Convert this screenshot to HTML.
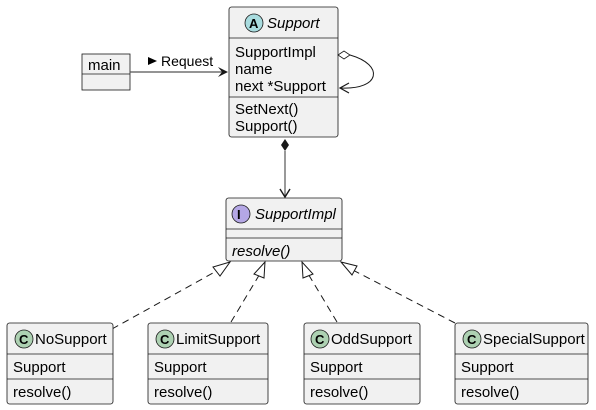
<!DOCTYPE html>
<html><head><meta charset="utf-8"><style>
html,body{margin:0;padding:0;background:#fff;}
svg{display:block;}
text{font-family:"Liberation Sans",sans-serif;font-size:15px;fill:#000;}
.b{fill:#f1f1f1;stroke:#181818;stroke-width:0.8;}
.l{stroke:#181818;stroke-width:0.8;}
</style></head><body>
<svg width="596" height="410" viewBox="0 0 596 410" xmlns="http://www.w3.org/2000/svg">
<!-- main -->
<rect class="b" x="82" y="54" width="48" height="36"/>
<line class="l" x1="82" y1="74" x2="130" y2="74"/>
<text x="88" y="70">main</text>
<!-- main -> Support -->
<line x1="130" y1="72" x2="226" y2="72" stroke="#555" stroke-width="1.2"/>
<path d="M218,67 L228,72 L218,77 L222,72 Z" fill="#181818"/>
<path d="M148,57 L157,61 L148,65 Z" fill="#000"/>
<text x="161" y="66" style="font-size:14px">Request</text>
<!-- Support -->
<rect class="b" x="229" y="7" width="109" height="130" rx="2.5"/>
<line class="l" x1="229" y1="38" x2="338" y2="38"/>
<line class="l" x1="229" y1="97" x2="338" y2="97"/>
<circle cx="254" cy="23" r="9" fill="#a9dcdf" stroke="#181818" stroke-width="0.8"/>
<text x="249" y="28" style="font-size:13px;font-weight:bold">A</text>
<text x="267" y="28" style="font-style:italic">Support</text>
<text x="235" y="57">SupportImpl</text>
<text x="235" y="74">name</text>
<text x="235" y="91">next *Support</text>
<text x="235" y="114">SetNext()</text>
<text x="235" y="131">Support()</text>
<!-- self loop -->
<path d="M338,55 L344,51 L350,55 L344,59 Z" fill="#fff" stroke="#181818" stroke-width="0.8"/>
<path d="M350,55 C385,65 380,90 341,88" fill="none" stroke="#181818" stroke-width="1"/>
<path d="M349,83 L340,88 L349,93" fill="none" stroke="#181818" stroke-width="1.2"/>
<!-- composition -->
<path d="M285,139 L289,145 L285,151 L281,145 Z" fill="#181818"/>
<line x1="285" y1="151" x2="285" y2="197" stroke="#555" stroke-width="1.2"/>
<path d="M280,189 L285,197 L290,189" fill="none" stroke="#181818" stroke-width="1.4"/>
<!-- SupportImpl -->
<rect class="b" x="226" y="198" width="116" height="63" rx="2.5"/>
<line class="l" x1="226" y1="229" x2="342" y2="229"/>
<line class="l" x1="226" y1="238" x2="342" y2="238"/>
<circle cx="241" cy="214" r="9" fill="#b4a7e5" stroke="#181818" stroke-width="0.8"/>
<text x="237" y="219" style="font-size:13px;font-weight:bold">I</text>
<text x="255" y="219" style="font-style:italic">SupportImpl</text>
<text x="232" y="256" style="font-style:italic">resolve()</text>
<!-- realization lines -->
<g fill="none" stroke="#181818" stroke-width="1">
<line x1="112" y1="329" x2="222" y2="268" stroke-dasharray="7,5"/>
<path d="M230,262 L213,267 L220,276 Z" fill="#fff"/>
<line x1="231" y1="322" x2="261" y2="272" stroke-dasharray="7,5"/>
<path d="M265,262 L254,274 L264,278 Z" fill="#fff"/>
<line x1="337" y1="322" x2="307" y2="272" stroke-dasharray="7,5"/>
<path d="M302,262 L303,278 L313,274 Z" fill="#fff"/>
<line x1="455" y1="323" x2="349" y2="268" stroke-dasharray="7,5"/>
<path d="M341,262 L352,275 L357,266 Z" fill="#fff"/>
</g>
<!-- bottom classes -->
<g>
<rect class="b" x="7" y="323" width="106" height="81" rx="2.5"/>
<line class="l" x1="7" y1="354" x2="113" y2="354"/>
<line class="l" x1="7" y1="379" x2="113" y2="379"/>
<circle cx="24" cy="339" r="9" fill="#add1b2" stroke="#181818" stroke-width="0.8"/>
<text x="19" y="344" style="font-size:13px;font-weight:bold">C</text>
<text x="35" y="344">NoSupport</text>
<text x="13" y="372">Support</text>
<text x="13" y="397">resolve()</text>

<rect class="b" x="148" y="323" width="120" height="81" rx="2.5"/>
<line class="l" x1="148" y1="354" x2="268" y2="354"/>
<line class="l" x1="148" y1="379" x2="268" y2="379"/>
<circle cx="165" cy="339" r="9" fill="#add1b2" stroke="#181818" stroke-width="0.8"/>
<text x="160" y="344" style="font-size:13px;font-weight:bold">C</text>
<text x="176" y="344">LimitSupport</text>
<text x="154" y="372">Support</text>
<text x="154" y="397">resolve()</text>

<rect class="b" x="304" y="323" width="116" height="81" rx="2.5"/>
<line class="l" x1="304" y1="354" x2="420" y2="354"/>
<line class="l" x1="304" y1="379" x2="420" y2="379"/>
<circle cx="320" cy="339" r="9" fill="#add1b2" stroke="#181818" stroke-width="0.8"/>
<text x="315" y="344" style="font-size:13px;font-weight:bold">C</text>
<text x="331" y="344">OddSupport</text>
<text x="310" y="372">Support</text>
<text x="310" y="397">resolve()</text>

<rect class="b" x="455" y="323" width="133" height="81" rx="2.5"/>
<line class="l" x1="455" y1="354" x2="588" y2="354"/>
<line class="l" x1="455" y1="379" x2="588" y2="379"/>
<circle cx="472" cy="339" r="9" fill="#add1b2" stroke="#181818" stroke-width="0.8"/>
<text x="467" y="344" style="font-size:13px;font-weight:bold">C</text>
<text x="483" y="344">SpecialSupport</text>
<text x="461" y="372">Support</text>
<text x="461" y="397">resolve()</text>
</g>
</svg>
</body></html>
